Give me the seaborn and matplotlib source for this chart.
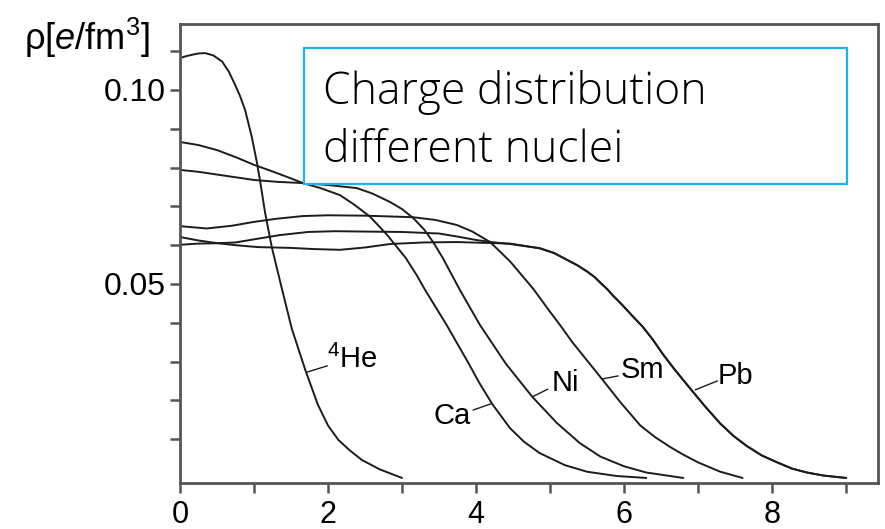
import matplotlib
matplotlib.use("Agg")
import matplotlib.pyplot as plt
import seaborn as sns
import pandas as pd
from matplotlib.patches import Rectangle

# ---------------- data ----------------
he_r = [0, 0.08, 0.17, 0.25, 0.34, 0.45, 0.57, 0.66, 0.74, 0.81, 0.88, 0.97, 1.04,
        1.08, 1.15, 1.24, 1.38, 1.51, 1.69, 1.86, 2.00, 2.14, 2.30, 2.46, 2.70, 3.00]
he_rho = [0.1082, 0.1087, 0.1091, 0.1094, 0.1095, 0.1089, 0.1073, 0.1047, 0.1015,
          0.0985, 0.0948, 0.0879, 0.0812, 0.0768, 0.0683, 0.0595, 0.0485, 0.0385,
          0.0280, 0.0190, 0.0135, 0.0098, 0.0070, 0.0046, 0.0022, 0.0]

ca_r = [0, 0.25, 0.5, 0.75, 1.0, 1.25, 1.5, 1.66, 1.9, 2.16, 2.35, 2.57, 2.8, 3.05,
        3.2, 3.31, 3.6, 3.9, 4.05, 4.22, 4.46, 4.65, 4.86, 5.2, 5.5, 5.9, 6.3]
ca_rho = [0.0866, 0.0858, 0.0845, 0.0827, 0.0807, 0.0790, 0.0772, 0.0760, 0.0747,
          0.0729, 0.0705, 0.0673, 0.0626, 0.0567, 0.0522, 0.0485, 0.0395, 0.0295,
          0.0243, 0.0190, 0.0128, 0.0093, 0.0064, 0.0033, 0.0016, 0.0005, 0.0]

ni_r = [0, 0.25, 0.5, 0.75, 1.0, 1.33, 1.66, 2.0, 2.39, 2.6, 2.84, 3.0, 3.15, 3.3,
        3.42, 3.55, 3.78, 4.05, 4.4, 4.76, 5.09, 5.4, 5.68, 6.0, 6.3, 6.8]
ni_rho = [0.0794, 0.0789, 0.0782, 0.0775, 0.0768, 0.0763, 0.0760, 0.0755, 0.0747,
          0.0733, 0.0711, 0.0693, 0.0670, 0.0640, 0.0608, 0.0567, 0.0485, 0.0395,
          0.0295, 0.0209, 0.0142, 0.0090, 0.0055, 0.0030, 0.0014, 0.0]

sm_r = [0, 0.36, 0.7, 1.0, 1.3, 1.66, 2.0, 2.5, 3.15, 3.45, 3.74, 3.95, 4.19, 4.46,
        4.77, 5.0, 5.15, 5.3, 5.68, 5.95, 6.22, 6.42, 6.62, 6.8, 7.0, 7.3, 7.6]
sm_rho = [0.0649, 0.0643, 0.0650, 0.0660, 0.0668, 0.0675, 0.0677, 0.0676, 0.0672,
          0.0665, 0.0652, 0.0635, 0.0608, 0.0558, 0.0488, 0.0428, 0.0390, 0.0350,
          0.0260, 0.0195, 0.0135, 0.0105, 0.0080, 0.0060, 0.0040, 0.0016, 0.0]

pb_r = [0, 0.25, 0.51, 0.75, 1.0, 1.35, 1.73, 2.1, 2.5, 3.0, 3.5, 3.75, 4.01, 4.25,
        4.46, 4.86, 5.05, 5.23, 5.37, 5.5, 5.6, 5.68, 5.77, 5.85, 5.97, 6.1, 6.25,
        6.39, 6.52, 6.66, 6.8, 6.93, 7.1, 7.3, 7.48, 7.66, 7.86, 8.07, 8.27, 8.47,
        8.7, 9.0]
pb_rho = [0.0621, 0.0612, 0.0605, 0.0607, 0.0615, 0.0626, 0.0634, 0.0636, 0.0635,
          0.0634, 0.0630, 0.0622, 0.0613, 0.0607, 0.0603, 0.0592, 0.0580, 0.0562,
          0.0548, 0.0532, 0.0518, 0.0503, 0.0487, 0.0470, 0.0447, 0.0420, 0.0390,
          0.0356, 0.0320, 0.0285, 0.0252, 0.0222, 0.0183, 0.0140, 0.0108, 0.0082,
          0.0058, 0.0040, 0.0024, 0.0014, 0.0006, 0.0]

pb2_r = [0, 0.25, 0.51, 0.75, 1.05, 1.49, 1.8, 2.16, 2.5, 2.84, 3.3, 3.74, 4.46,
         4.86, 5.05, 5.23, 5.37, 5.5, 5.6, 5.68, 5.77, 5.85, 5.97, 6.1, 6.25, 6.39,
         6.52, 6.66, 6.8, 6.93, 7.1, 7.3, 7.48, 7.66, 7.86, 8.07, 8.27, 8.47, 8.7,
         9.0]
pb2_rho = [0.0601, 0.0604, 0.0605, 0.0600, 0.0595, 0.0593, 0.0590, 0.0588, 0.0594,
           0.0603, 0.0607, 0.0608, 0.0604, 0.0592, 0.0580, 0.0562, 0.0548, 0.0532,
           0.0518, 0.0503, 0.0487, 0.0470, 0.0447, 0.0420, 0.0390, 0.0356, 0.0320,
           0.0285, 0.0252, 0.0222, 0.0183, 0.0140, 0.0108, 0.0082, 0.0058, 0.0040,
           0.0024, 0.0014, 0.0006, 0.0]

series = {"He": (he_r, he_rho), "Ca": (ca_r, ca_rho), "Ni": (ni_r, ni_rho),
          "Sm": (sm_r, sm_rho), "Pb": (pb_r, pb_rho), "Pb2": (pb2_r, pb2_rho)}

x_ticks = list(range(0, 10))
x_ticklabels = ["0", "", "2", "", "4", "", "6", "", "8", ""]
y_ticks = [0.01, 0.02, 0.03, 0.04, 0.05, 0.06, 0.07, 0.08, 0.09, 0.10, 0.11]
y_ticklabels = ["", "", "", "", "0.05", "", "", "", "", "0.10", ""]

ylabel_text = r"ρ[$\mathit{e}$/fm$^{3}$]"
box_lines = ["Charge distribution", "different nuclei"]

# label text, text position, leader start, leader end, alignment
curve_labels = [
    (r"$^{4}$He", (1.99, 0.0305), (1.72, 0.0273), (1.99, 0.0289), "left"),
    ("Ca", (3.68, 0.0160), (3.96, 0.0175), (4.20, 0.0191), "center"),
    ("Ni", (5.20, 0.0245), (4.76, 0.0209), (4.97, 0.0229), "center"),
    ("Sm", (6.25, 0.0278), (5.70, 0.0255), (5.92, 0.0263), "center"),
    ("Pb", (7.50, 0.0263), (6.96, 0.0227), (7.26, 0.0250), "center"),
]

# ---------------- build frame ----------------
rows = []
for name, (rr, dd) in series.items():
    for r, d in zip(rr, dd):
        rows.append({"nucleus": name, "r": r, "rho": d})
df = pd.DataFrame(rows)

sns.set_theme(style="ticks")
plt.rcParams["font.family"] = ["Liberation Sans", "DejaVu Sans"]
plt.rcParams["mathtext.fontset"] = "custom"
plt.rcParams["mathtext.rm"] = "Liberation Sans"
plt.rcParams["mathtext.it"] = "Liberation Sans:italic"

W, H = 885, 529
fig = plt.figure(figsize=(W / 100, H / 100), dpi=100)
L, R, T, B = 180, 878, 24, 483
ax = fig.add_axes([L / W, 1 - B / H, (R - L) / W, (B - T) / H])

line_col = "#1c1c1c"
sns.lineplot(data=df, x="r", y="rho", hue="nucleus", estimator=None, sort=False,
             palette={k: line_col for k in series}, legend=False, linewidth=1.4,
             ax=ax)

ax.set_xlim(0, 9.43)
ax.set_ylim(-0.0013, 0.117)
ax.set_xlabel("")
ax.set_ylabel("")
ax.set_xticks(x_ticks)
ax.set_xticklabels(x_ticklabels)
ax.set_yticks(y_ticks)
ax.set_yticklabels(y_ticklabels)
ax.tick_params(direction="out", length=7, width=1.8, color="#555555",
               labelsize=23, labelcolor="black", pad=3)
ax.tick_params(axis="x", labelsize=22, pad=5)
for sp in ax.spines.values():
    sp.set_visible(True)
    sp.set_color("#555555")
    sp.set_linewidth(2.0)

# text box
bx0, bx1, by0, by1 = 304, 847, 48, 184
ax.add_patch(Rectangle(((bx0 - L) / (R - L), (B - by1) / (B - T)),
                       (bx1 - bx0) / (R - L), (by1 - by0) / (B - T),
                       transform=ax.transAxes, facecolor="white",
                       edgecolor="#1fb1e9", linewidth=1.6, zorder=5))
for txt, base in zip(box_lines, [104, 162]):
    fig.text(323 / W, 1 - base / H, txt, fontsize=32, va="baseline", ha="left",
             color="black", zorder=6, family=["Open Sans", "DejaVu Sans"],
             fontweight="light")

# y label
fig.text(24 / W, 1 - 38 / H, ylabel_text, fontsize=26, va="center", ha="left",
         color="black")

# curve labels
for txt, (tx, ty), (l0x, l0y), (l1x, l1y), ha in curve_labels:
    ax.plot([l0x, l1x], [l0y, l1y], color=line_col, linewidth=1.0)
    ax.text(tx, ty, txt, fontsize=21, ha=ha, va="center", color="black")

fig.savefig("out.png", dpi=100)
